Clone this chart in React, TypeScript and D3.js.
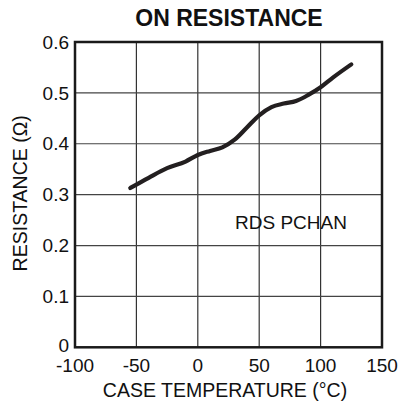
import React from "react";
import * as d3 from "d3";

const temps = [-55, -40, -25, -10, 0, 10, 20, 30, 40, 50, 60, 70, 80, 90, 100, 110, 125];
const resistance = [0.313, 0.333, 0.352, 0.365, 0.378, 0.386, 0.393, 0.408, 0.432, 0.456, 0.472, 0.479, 0.484, 0.496, 0.511, 0.53, 0.556];
const xTicks = [-100, -50, 0, 50, 100, 150];
const yTicks = [0, 0.1, 0.2, 0.3, 0.4, 0.5, 0.6];

const W = 400;
const H = 403;
const L = 75, R = 382, T = 42, B = 347.3;

export default function App() {
  const x = d3.scaleLinear().domain([-100, 150]).range([L, R]);
  const y = d3.scaleLinear().domain([0, 0.6]).range([B, T]);
  const pts = temps.map((t, i) => [t, resistance[i]] as [number, number]);
  const line = d3
    .line<[number, number]>()
    .x((d) => x(d[0]))
    .y((d) => y(d[1]))
    .curve(d3.curveMonotoneX);
  const font = "Liberation Sans, Arial, Helvetica, sans-serif";
  return (
    <svg
      width={W}
      height={H}
      style={{ position: "absolute", left: 0, top: 0, background: "#fff" }}
      fontFamily={font}
    >
      {xTicks.slice(1, -1).map((t) => (
        <line key={"gx" + t} x1={x(t)} x2={x(t)} y1={T} y2={B} stroke="#333" strokeWidth={1.2} />
      ))}
      {yTicks.slice(1, -1).map((v) => (
        <line key={"gy" + v} x1={L} x2={R} y1={y(v)} y2={y(v)} stroke="#444" strokeWidth={1.2} />
      ))}
      <rect x={L} y={T} width={R - L} height={B - T} fill="none" stroke="#1a1a1a" strokeWidth={2.5} />
      <path d={line(pts) || ""} fill="none" stroke="#231f20" strokeWidth={4.2} strokeLinecap="round" strokeLinejoin="round" />
      {yTicks.map((v) => (
        <text key={"ty" + v} x={69} y={y(v) - (v === 0 ? 1.5 : 0)} dy="0.35em" textAnchor="end" fontSize={19} fill="#111">
          {v === 0 ? "0" : v.toFixed(1)}
        </text>
      ))}
      {xTicks.map((t) => (
        <text key={"tx" + t} x={x(t)} y={371.5} textAnchor="middle" fontSize={19} fill="#111">
          {t}
        </text>
      ))}
      <text x={229} y={26} textAnchor="middle" fontSize={23} fontWeight="bold" fill="#111">
        ON RESISTANCE
      </text>
      <text x={225} y={396.5} textAnchor="middle" fontSize={19.5} fill="#111">
        CASE TEMPERATURE (°C)
      </text>
      <text
        transform={`translate(27.3,193.3) rotate(-90)`}
        textAnchor="middle"
        fontSize={19.5}
        fill="#111"
      >
        RESISTANCE (Ω)
      </text>
      <text x={235} y={229} fontSize={19} fill="#111">
        RDS PCHAN
      </text>
    </svg>
  );
}
